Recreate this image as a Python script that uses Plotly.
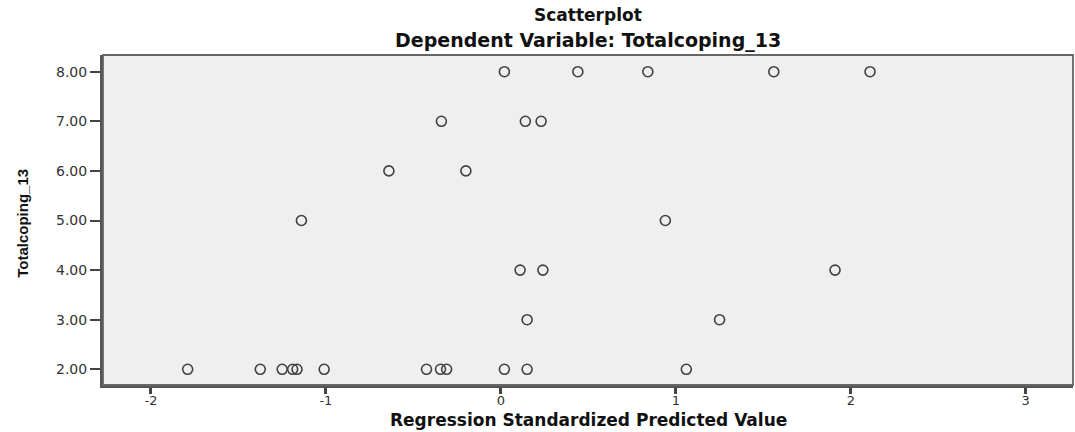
import plotly.graph_objects as go

# Regression standardized predicted value (x) and observed Totalcoping_13 (y)
predicted = [
    0.02, 0.44, 0.84, 1.56, 2.11,                 # y = 8
    -0.34, 0.14, 0.23,                            # y = 7
    -0.64, -0.20,                                 # y = 6
    -1.14, 0.94,                                  # y = 5
    0.11, 0.24, 1.91,                             # y = 4
    0.15, 1.25,                                   # y = 3
    -1.79, -1.375, -1.25, -1.19, -1.165, -1.01,
    -0.425, -0.345, -0.31, 0.02, 0.15, 1.06,      # y = 2
]
totalcoping = [
    8, 8, 8, 8, 8,
    7, 7, 7,
    6, 6,
    5, 5,
    4, 4, 4,
    3, 3,
    2, 2, 2, 2, 2, 2,
    2, 2, 2, 2, 2, 2,
]
x_ticks = [-2, -1, 0, 1, 2, 3]
y_ticks = [2, 3, 4, 5, 6, 7, 8]
y_ticklabels = [f"{v:.2f}" for v in y_ticks]

title_main = "Scatterplot"
title_sub = "Dependent Variable: Totalcoping_13"
x_title = "Regression Standardized Predicted Value"
y_title = "Totalcoping_13"

WIDE = "DejaVu Sans, Verdana, sans-serif"
NARROW = "Liberation Sans, Arial, sans-serif"

fig = go.Figure(
    go.Scatter(
        x=predicted,
        y=totalcoping,
        mode="markers",
        marker=dict(symbol="circle-open", size=10, color="#404040",
                    line=dict(width=1.6, color="#404040")),
        hoverinfo="x+y",
        showlegend=False,
    )
)

fig.update_layout(
    width=1075,
    height=432,
    margin=dict(l=103, r=2, t=55, b=47),
    paper_bgcolor="white",
    plot_bgcolor="#efefef",
    font=dict(family=WIDE, color="#222222"),
    showlegend=False,
)

fig.update_xaxes(
    range=[-2.274, 3.27],
    tickvals=x_ticks,
    ticktext=[str(v) for v in x_ticks],
    showgrid=False,
    zeroline=False,
    showline=True,
    linewidth=3,
    linecolor="#555555",
    ticks="outside",
    ticklen=6,
    tickwidth=2.5,
    tickcolor="#444444",
    ticklabelstandoff=-5,
    tickfont=dict(size=13, family=WIDE, color="#333333"),
)
fig.update_yaxes(
    range=[1.683, 8.337],
    tickvals=y_ticks,
    ticktext=y_ticklabels,
    showgrid=False,
    zeroline=False,
    showline=True,
    linewidth=3,
    linecolor="#555555",
    ticks="outside",
    ticklen=10,
    tickwidth=1.5,
    tickcolor="#444444",
    ticklabelstandoff=0,
    tickfont=dict(size=14, family=WIDE, color="#333333"),
)

# thin frame on top and right
fig.add_shape(type="rect", xref="paper", yref="paper", x0=0, x1=1, y0=0, y1=1,
              line=dict(color="#666666", width=1.8), fillcolor="rgba(0,0,0,0)",
              layer="above")

fig.add_annotation(text=f"<b>{title_main}</b>", xref="paper", yref="paper",
                   x=0.5, y=1.121, xanchor="center", yanchor="middle",
                   showarrow=False, font=dict(size=17, family=WIDE, color="#111111"))
fig.add_annotation(text=f"<b>{title_sub}</b>", xref="paper", yref="paper",
                   x=0.5, y=1.045, xanchor="center", yanchor="middle",
                   showarrow=False, font=dict(size=19, family=WIDE, color="#111111"))
fig.add_annotation(text=f"<b>{x_title}</b>", xref="paper", yref="paper",
                   x=0.5, y=-0.106, xanchor="center", yanchor="middle",
                   showarrow=False, font=dict(size=17, family=WIDE, color="#111111"))
fig.add_annotation(text=f"<b>{y_title}</b>", xref="paper", yref="paper",
                   x=-0.083, y=0.49, xanchor="center", yanchor="middle",
                   textangle=-90, showarrow=False,
                   font=dict(size=15, family=NARROW, color="#111111"))

fig.write_html(
    "out.html",
    config={"displayModeBar": False},
    post_script="document.body.style.margin='0';document.body.style.overflow='hidden';",
)
